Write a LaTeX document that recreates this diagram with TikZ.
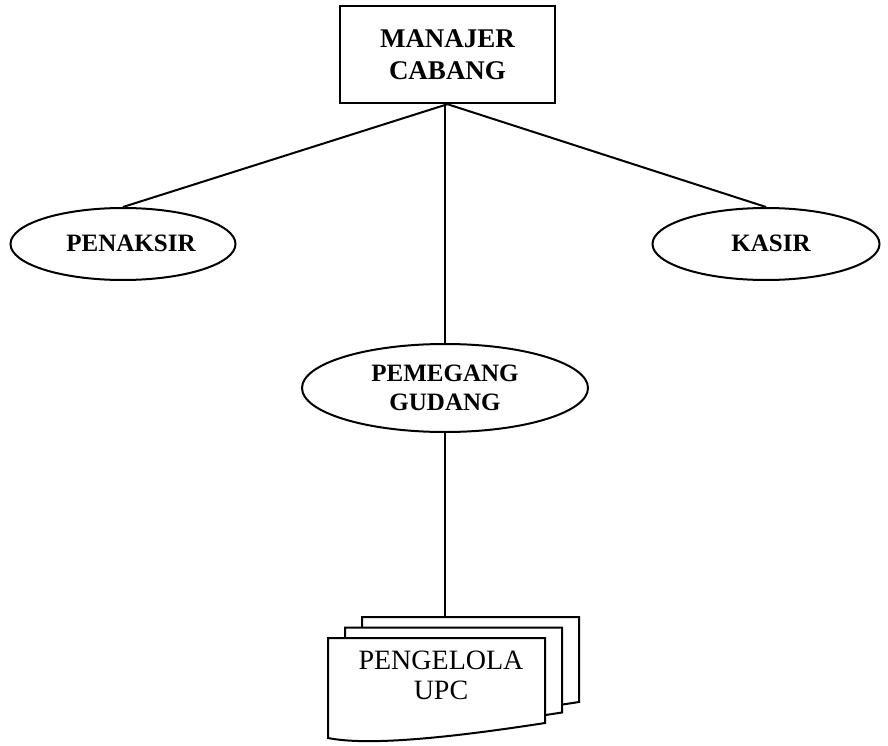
\documentclass[tikz,border=0pt]{standalone}
\usepackage{fontspec}
\setmainfont{Liberation Serif}
\usetikzlibrary{shapes.geometric}
\begin{document}
\begin{tikzpicture}[x=1pt,y=-1pt,
  every node/.style={font=\bfseries\fontsize{25}{29}\selectfont, align=center, inner sep=0pt},
  boxnode/.style={draw, line width=2.4pt, minimum width=215pt, minimum height=97pt},
  ovalnode/.style={draw, ellipse, line width=2pt},
  link/.style={line width=2pt},
  docpage/.style={draw, fill=white, line width=2pt},
  labeltext/.style={inner sep=0pt}]
\useasboundingbox (0,0) rectangle (888,746);
\node[boxnode, font=\bfseries\fontsize{27}{32}\selectfont] (manajer) at (447.5,54.5) {MANAJER\\CABANG};
\node[ovalnode, minimum width=225pt, minimum height=72pt] (penaksir) at (123,244) {};
\node[labeltext] (penaksirtext) at (131,243) {PENAKSIR};
\node[ovalnode, minimum width=227pt, minimum height=72pt] (kasir) at (766,244) {};
\node[labeltext] (kasirtext) at (771,243) {KASIR};
\node[ovalnode, minimum width=286pt, minimum height=88pt] (pemegang) at (445,388) {PEMEGANG\\GUDANG};
% stacked documents
\foreach \dx/\dy in {34/-21, 17/-10.5, 0/0}{
  \draw[docpage, shift={(328+\dx,638+\dy)}] (0,0) -- (217,0) -- (217,85)
    .. controls (120,100) and (40,108) .. (0,100) -- cycle;
}
\coordinate (upctop) at (445,617);
\node[font=\fontsize{28}{30}\selectfont] (upc) at (441,675) {PENGELOLA\\UPC};
\draw[link] (manajer.south) -- (penaksir.north);
\draw[link] (manajer.south) -- (kasir.north);
\draw[link] (manajer.south -| pemegang.north) -- (pemegang.north);
\draw[link] (pemegang.south) -- (upctop);
\end{tikzpicture}
\end{document}
